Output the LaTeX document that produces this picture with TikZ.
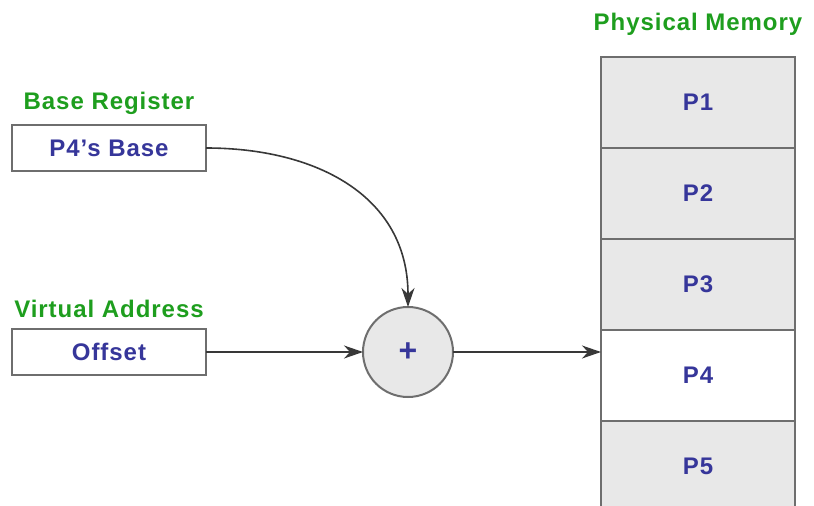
\documentclass[tikz,border=0pt]{standalone}
\usepackage{fontspec}
\newfontfamily\diagfont[LetterSpace=4]{Liberation Sans}
\usetikzlibrary{positioning,arrows.meta}
\definecolor{cellgray}{HTML}{E8E8E8}
\definecolor{edgegray}{HTML}{6E6E6E}
\definecolor{txtblue}{HTML}{36369A}
\definecolor{lblgreen}{HTML}{1E9E1E}
\tikzset{
  regbox/.style={draw=edgegray, line width=2pt, fill=white, outer sep=0pt,
    minimum width=194pt, minimum height=46pt, text=txtblue,
    font=\diagfont\bfseries\fontsize{24}{28}\selectfont},
  cell/.style={regbox, fill=cellgray, minimum height=91pt},
  adder/.style={regbox, circle, fill=cellgray, minimum width=90pt, minimum size=90pt,
    font=\diagfont\bfseries\fontsize{32}{34}\selectfont},
  caption/.style={text=lblgreen, inner sep=0pt,
    font=\diagfont\bfseries\fontsize{24}{28}\selectfont},
  link/.style={-{Stealth[length=19pt,width=13pt,inset=6pt]}, line width=1.6pt, draw=black!78}
}
\begin{document}
\begin{tikzpicture}[x=1pt,y=-1pt]
    \useasboundingbox (0,0) rectangle (814,506);
    \node[regbox] (base) at (109,148) {P4’s Base};
    \node[regbox] (off) at (109,352) {Offset};
    \node[adder] (add) at (408,352) {+};
    \node[caption, above=10pt of base] (basecap) {Base Register};
    \node[caption, above=11pt of off] (offcap) {Virtual Address};

    \node[cell] (1) at (698,102) {P1};
    \node[cell, below=0pt of 1] (2) {P2};
    \node[cell, below=0pt of 2] (3) {P3};
    \node[cell, fill=white, below=0pt of 3] (4) {P4};
    \node[cell, below=0pt of 4] (5) {P5};
    \node[caption, above=21pt of 1] (memcap) {Physical Memory};

    \draw[link] (base.east) to[out=0, in=90, looseness=1.1] (add.north);
    \draw[link] (off) -- (add);
    \draw[link] (add.east) -- (add.east -| 4.west);
\end{tikzpicture}
\end{document}
